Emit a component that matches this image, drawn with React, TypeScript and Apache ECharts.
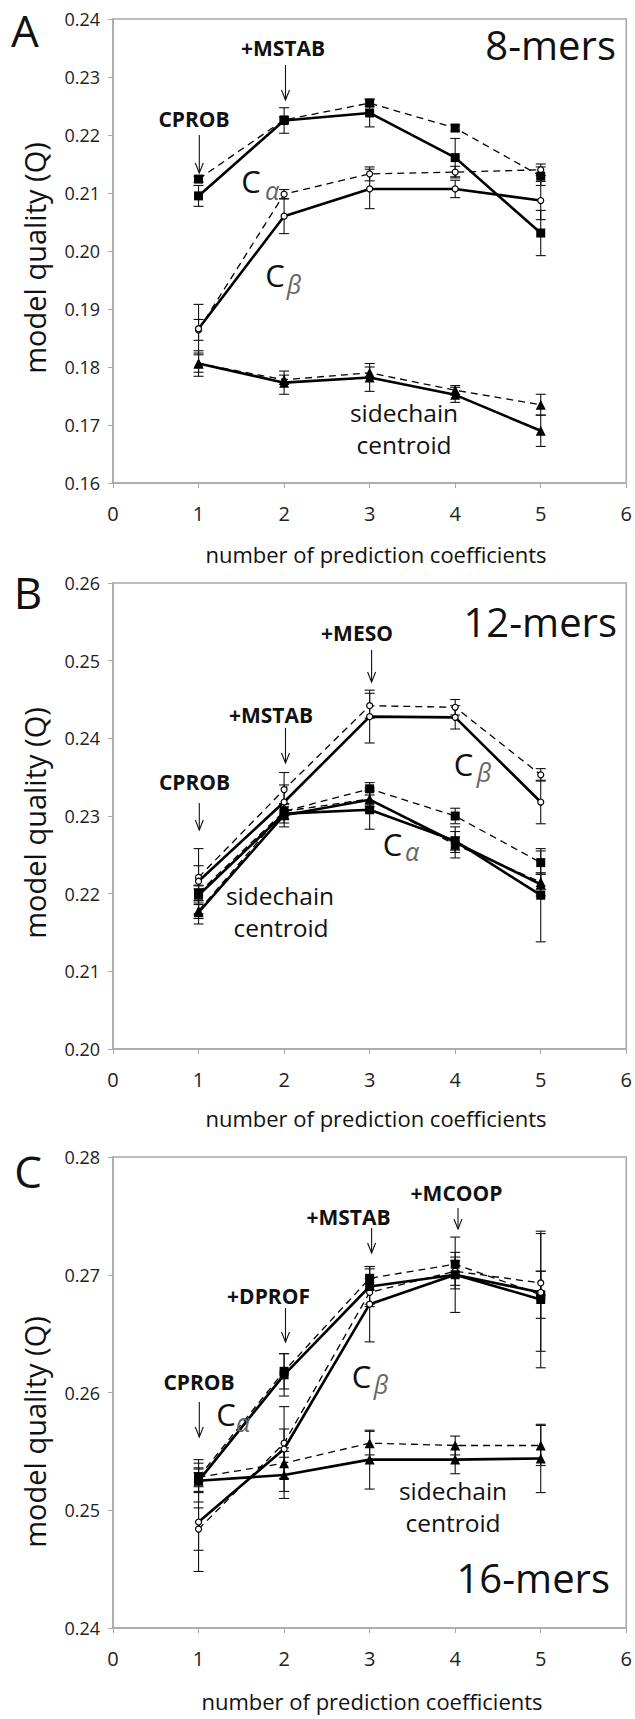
import React, { useEffect, useRef } from "react";
import * as echarts from "echarts";

// x positions (number of prediction coefficients)
const xValues = [1, 2, 3, 4, 5];

// ---------- Panel A: 8-mers ----------
const aSquareSolid = [0.2095, 0.2225, 0.2238, 0.2161, 0.2031];
const aSquareSolidErr = [0.0018, 0.0022, 0.0024, 0.0033, 0.0039];
const aSquareDash = [0.2124, 0.2226, 0.2255, 0.2212, 0.2129];
const aSquareDashErr = [0.0005, 0.0005, 0.0006, 0.0005, 0.0016];
const aCircleSolid = [0.1866, 0.206, 0.2107, 0.2107, 0.2087];
const aCircleSolidErr = [0.0042, 0.003, 0.0034, 0.0015, 0.0033];
const aCircleDash = [0.1864, 0.2098, 0.2133, 0.2136, 0.214];
const aCircleDashErr = [0.0018, 0.0008, 0.0012, 0.001, 0.001];
const aTriSolid = [0.1806, 0.1773, 0.1782, 0.1752, 0.169];
const aTriSolidErr = [0.0015, 0.002, 0.0024, 0.0013, 0.0027];
const aTriDash = [0.1806, 0.1778, 0.179, 0.176, 0.1735];
const aTriDashErr = [0.0022, 0.0008, 0.001, 0.0008, 0.0018];

// ---------- Panel B: 12-mers ----------
const bCircleSolid = [0.2216, 0.2318, 0.2428, 0.2427, 0.2318];
const bCircleSolidErr = [0.0042, 0.0022, 0.0034, 0.0015, 0.0028];
const bCircleDash = [0.2221, 0.2334, 0.2442, 0.244, 0.2353];
const bCircleDashErr = [0.0015, 0.0022, 0.0016, 0.001, 0.0008];
const bSquareSolid = [0.2198, 0.2303, 0.2308, 0.2268, 0.2198];
const bSquareSolidErr = [0.0012, 0.0012, 0.0025, 0.0012, 0.006];
const bSquareDash = [0.2201, 0.2306, 0.2335, 0.23, 0.224];
const bSquareDashErr = [0.001, 0.001, 0.0008, 0.001, 0.0015];
const bTriSolid = [0.2176, 0.2301, 0.2321, 0.2266, 0.2212];
const bTriSolidErr = [0.0015, 0.0015, 0.0015, 0.002, 0.0015];
const bTriDash = [0.2178, 0.2306, 0.2322, 0.2263, 0.2215];
const bTriDashErr = [0.001, 0.001, 0.001, 0.001, 0.001];

// ---------- Panel C: 16-mers ----------
const cSquareSolid = [0.2525, 0.2615, 0.269, 0.27, 0.2679];
const cSquareSolidErr = [0.0018, 0.0018, 0.0015, 0.0012, 0.0058];
const cSquareDash = [0.2528, 0.2618, 0.2697, 0.2709, 0.2683];
const cSquareDashErr = [0.0012, 0.0015, 0.001, 0.001, 0.002];
const cCircleSolid = [0.249, 0.2552, 0.2675, 0.27, 0.2685];
const cCircleSolidErr = [0.0042, 0.0036, 0.0032, 0.0032, 0.005];
const cCircleDash = [0.2484, 0.2557, 0.2685, 0.2703, 0.2693];
const cCircleDashErr = [0.0018, 0.0012, 0.0012, 0.0012, 0.001];
const cTriSolid = [0.2525, 0.253, 0.2543, 0.2543, 0.2544];
const cTriSolidErr = [0.001, 0.002, 0.0025, 0.0012, 0.0029];
const cTriDash = [0.2528, 0.254, 0.2557, 0.2555, 0.2555];
const cTriDashErr = [0.0008, 0.0013, 0.001, 0.0008, 0.0017];

// axis ranges
const yRanges = [
  [0.16, 0.24],
  [0.2, 0.26],
  [0.24, 0.28],
];
const xMin = 0;
const xMax = 6;

const FONT = "'Open Sans', 'Noto Sans', sans-serif";
const GRAY = "#a8a8a8";

type S = { values: number[]; errs: number[]; symbol: string; dashed: boolean };

const panelSeries: S[][] = [
  [
    { values: aTriSolid, errs: aTriSolidErr, symbol: "triangle", dashed: false },
    { values: aTriDash, errs: aTriDashErr, symbol: "triangle", dashed: true },
    { values: aCircleSolid, errs: aCircleSolidErr, symbol: "circle", dashed: false },
    { values: aCircleDash, errs: aCircleDashErr, symbol: "circle", dashed: true },
    { values: aSquareSolid, errs: aSquareSolidErr, symbol: "rect", dashed: false },
    { values: aSquareDash, errs: aSquareDashErr, symbol: "rect", dashed: true },
  ],
  [
    { values: bTriSolid, errs: bTriSolidErr, symbol: "triangle", dashed: false },
    { values: bTriDash, errs: bTriDashErr, symbol: "triangle", dashed: true },
    { values: bSquareSolid, errs: bSquareSolidErr, symbol: "rect", dashed: false },
    { values: bSquareDash, errs: bSquareDashErr, symbol: "rect", dashed: true },
    { values: bCircleSolid, errs: bCircleSolidErr, symbol: "circle", dashed: false },
    { values: bCircleDash, errs: bCircleDashErr, symbol: "circle", dashed: true },
  ],
  [
    { values: cTriSolid, errs: cTriSolidErr, symbol: "triangle", dashed: false },
    { values: cTriDash, errs: cTriDashErr, symbol: "triangle", dashed: true },
    { values: cCircleSolid, errs: cCircleSolidErr, symbol: "circle", dashed: false },
    { values: cCircleDash, errs: cCircleDashErr, symbol: "circle", dashed: true },
    { values: cSquareSolid, errs: cSquareSolidErr, symbol: "rect", dashed: false },
    { values: cSquareDash, errs: cSquareDashErr, symbol: "rect", dashed: true },
  ],
];

// layout (pixels)
const grids = [
  { left: 113, top: 19, width: 517, height: 464 },
  { left: 113, top: 583, width: 517, height: 466 },
  { left: 113, top: 1157, width: 517, height: 471 },
];

function errorBarSeries(gi: number, s: S) {
  return {
    type: "custom",
    xAxisIndex: gi,
    yAxisIndex: gi,
    silent: true,
    z: 2,
    encode: { x: 0, y: 1 },
    data: xValues.map((x, i) => [x, s.values[i], s.errs[i]]),
    renderItem: (params: any, api: any) => {
      const x = api.value(0);
      const v = api.value(1);
      const e = api.value(2);
      const p1 = api.coord([x, v + e]);
      const p2 = api.coord([x, v - e]);
      const st = { stroke: "#111", lineWidth: 1.1 };
      return {
        type: "group",
        children: [
          { type: "line", shape: { x1: p1[0], y1: p1[1], x2: p2[0], y2: p2[1] }, style: st },
          { type: "line", shape: { x1: p1[0] - 5, y1: p1[1], x2: p1[0] + 5, y2: p1[1] }, style: st },
          { type: "line", shape: { x1: p2[0] - 5, y1: p2[1], x2: p2[0] + 5, y2: p2[1] }, style: st },
        ],
      };
    },
  };
}

function lineSeries(gi: number, s: S) {
  const isCircle = s.symbol === "circle";
  return {
    type: "line",
    xAxisIndex: gi,
    yAxisIndex: gi,
    silent: true,
    data: xValues.map((x, i) => [x, s.values[i]]),
    symbol: s.symbol,
    symbolSize: isCircle ? 6 : s.symbol === "rect" ? 9 : 10,
    z: s.dashed ? 3 : 4,
    lineStyle: {
      color: "#000",
      width: s.dashed ? 1.3 : 2.6,
      type: s.dashed ? [7, 5] : "solid",
    },
    itemStyle: {
      color: isCircle ? "#fff" : "#000",
      borderColor: "#000",
      borderWidth: isCircle ? 1.2 : 0,
    },
  };
}

function txt(x: number, y: number, text: string, o: any = {}) {
  return {
    type: "text",
    x,
    y,
    rotation: o.rotation || 0,
    z: 10,
    style: {
      text,
      fill: o.color || "#111",
      fontSize: o.size || 20,
      fontWeight: o.weight || "normal",
      fontStyle: o.style || "normal",
      fontFamily: o.family || FONT,
      align: o.align || "center",
      verticalAlign: "middle",
    },
  };
}

function arrow(x: number, y1: number, y2: number) {
  return [
    { type: "line", z: 10, shape: { x1: x, y1, x2: x, y2 }, style: { stroke: "#111", lineWidth: 1.1 } },
    {
      type: "polyline",
      z: 10,
      shape: { points: [[x - 4, y2 - 10], [x, y2], [x + 4, y2 - 10]] },
      style: { stroke: "#111", lineWidth: 1.1, fill: "none" },
    },
  ];
}

const bold = { size: 21, weight: "bold" };
const cLetter = { size: 31 };
const greek = { size: 25, style: "italic", color: "#666" };
const merLabel = { size: 40, align: "right" };
const sideLabel = { size: 24.5 };
const xTitleStyle = { size: 22 };
const yTitleStyle = { size: 29, rotation: Math.PI / 2 };
const xTitle = "number of prediction coefficients";
const yTitle = "model quality (Q)";

const graphics: any[] = [
  // Panel letters
  txt(25, 30, "A", { size: 44 }),
  txt(28, 592, "B", { size: 44 }),
  txt(28, 1171, "C", { size: 44 }),
  // axis titles
  txt(376, 554, xTitle, xTitleStyle),
  txt(376, 1118, xTitle, xTitleStyle),
  txt(372, 1701, xTitle, xTitleStyle),
  txt(34, 258, yTitle, yTitleStyle),
  txt(34, 823, yTitle, yTitleStyle),
  txt(34, 1432, yTitle, yTitleStyle),
  // Panel A
  txt(616, 44, "8-mers", merLabel),
  txt(283, 48, "+MSTAB", bold),
  ...arrow(285.5, 65, 100),
  txt(194, 119, "CPROB", bold),
  ...arrow(199.3, 135, 173),
  txt(251, 181, "C", cLetter),
  txt(272, 190, "α", greek),
  txt(275, 275, "C", cLetter),
  txt(294, 284, "β", greek),
  txt(404, 412, "sidechain", sideLabel),
  txt(404, 444, "centroid", sideLabel),
  // Panel B
  txt(617, 621, "12-mers", merLabel),
  txt(357, 633, "+MESO", bold),
  ...arrow(371.6, 650, 682),
  txt(271, 715, "+MSTAB", bold),
  ...arrow(285.5, 728, 763),
  txt(194.5, 782, "CPROB", bold),
  ...arrow(199.3, 803, 830),
  txt(463.5, 764, "C", cLetter),
  txt(484, 772, "β", greek),
  txt(392.5, 844, "C", cLetter),
  txt(412, 851, "α", greek),
  txt(280, 895, "sidechain", sideLabel),
  txt(281, 927, "centroid", sideLabel),
  // Panel C
  txt(610, 1577, "16-mers", merLabel),
  txt(456.5, 1193, "+MCOOP", bold),
  ...arrow(458, 1208, 1229),
  txt(348.5, 1217, "+MSTAB", bold),
  ...arrow(371.6, 1228, 1253),
  txt(268.5, 1296, "+DPROF", bold),
  ...arrow(285.5, 1308, 1342),
  txt(199, 1382, "CPROB", bold),
  ...arrow(199.3, 1402, 1437),
  txt(226, 1414, "C", cLetter),
  txt(243, 1422, "α", greek),
  txt(361.5, 1376, "C", cLetter),
  txt(381, 1384, "β", greek),
  txt(453, 1490, "sidechain", sideLabel),
  txt(453, 1522, "centroid", sideLabel),
];

export default function App() {
  const ref = useRef<HTMLDivElement>(null);
  useEffect(() => {
    document.body.style.margin = "0";
    if (!ref.current) return;
    const chart = echarts.init(ref.current, undefined, { renderer: "svg" });
    const series: any[] = [];
    panelSeries.forEach((list, gi) => {
      list.forEach((s) => series.push(errorBarSeries(gi, s)));
      list.forEach((s) => series.push(lineSeries(gi, s)));
    });
    chart.setOption({
      animation: false,
      backgroundColor: "#fff",
      grid: grids.map((g) => ({
        ...g,
        show: true,
        borderColor: GRAY,
        borderWidth: 1.5,
        backgroundColor: "transparent",
      })),
      xAxis: grids.map((_, gi) => ({
        type: "value",
        gridIndex: gi,
        min: xMin,
        max: xMax,
        interval: 1,
        axisLine: { show: true, onZero: false, lineStyle: { color: GRAY, width: 1.5 } },
        axisTick: { show: true, length: 5, lineStyle: { color: GRAY, width: 1 } },
        axisLabel: { margin: 20, fontSize: 20, color: "#222", fontFamily: FONT },
        splitLine: { show: false },
      })),
      yAxis: yRanges.map((r, gi) => ({
        type: "value",
        gridIndex: gi,
        min: r[0],
        max: r[1],
        interval: 0.01,
        axisLine: { show: true, onZero: false, lineStyle: { color: GRAY, width: 1.5 } },
        axisTick: { show: true, length: 5, lineStyle: { color: GRAY, width: 1 } },
        axisLabel: {
          margin: 13,
          fontSize: 18,
          color: "#222",
          fontFamily: FONT,
          formatter: (v: number) => v.toFixed(2),
        },
        splitLine: { show: false },
      })),
      series,
      graphic: graphics,
    });
    return () => chart.dispose();
  }, []);
  return <div ref={ref} style={{ width: 635, height: 1719 }} />;
}
